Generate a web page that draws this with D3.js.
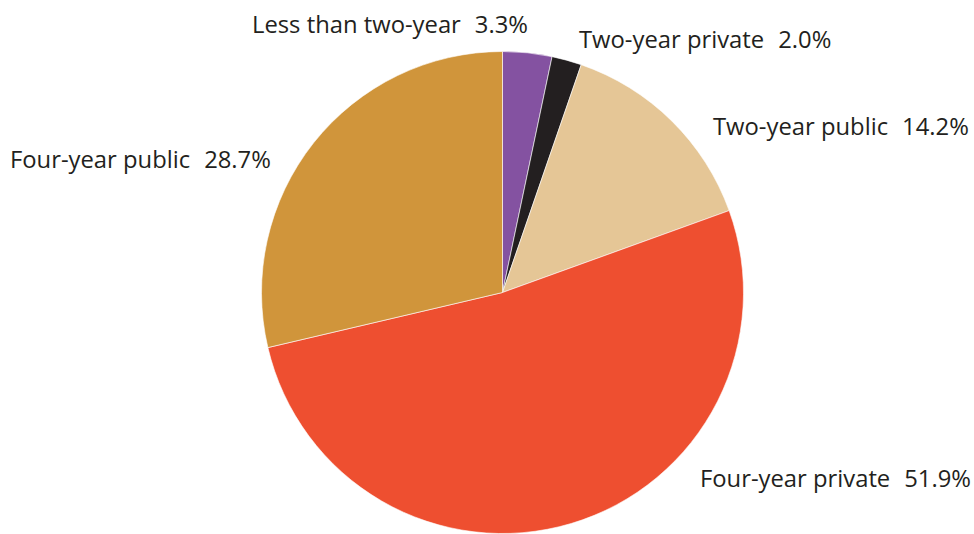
<!DOCTYPE html>
<html>
<head>
<meta charset="utf-8">
<script src="https://cdn.jsdelivr.net/npm/d3@7"></script>
<style>
  html, body { margin: 0; padding: 0; background: #ffffff; }
  svg { display: block; }
  text { font-family: "Open Sans", "Noto Sans", sans-serif; fill: #231f20; }
</style>
</head>
<body>
<svg id="chart" width="974" height="534"></svg>
<script>
// Share of enrollment by institution type, clockwise from 12 o'clock
const categories = [
  "Less than two-year",
  "Two-year private",
  "Two-year public",
  "Four-year private",
  "Four-year public"
];
const shares = [3.3, 2.0, 14.2, 51.9, 28.7];
const valueLabels = ["3.3%", "2.0%", "14.2%", "51.9%", "28.7%"];

const colors = ["#8452a1", "#231f20", "#e5c696", "#ee4f30", "#d0953b"];

// Label anchors (left edge of text, baseline)
const labelAnchors = [
  [252, 33],
  [579, 48],
  [713, 135],
  [700, 487],
  [10, 168]
];

const width = 974, height = 534;
const cx = 502.5, cy = 292.5, radius = 241;

const svg = d3.select("#chart");

const pie = d3.pie()
  .value(d => d.value)
  .sort(null)
  .startAngle(0)
  .endAngle(2 * Math.PI);

const arc = d3.arc().innerRadius(0).outerRadius(radius);

const data = categories.map((c, i) => ({ name: c, value: shares[i], label: valueLabels[i], color: colors[i], anchor: labelAnchors[i] }));

const g = svg.append("g").attr("transform", `translate(${cx},${cy})`);

g.selectAll("path")
  .data(pie(data))
  .join("path")
  .attr("d", arc)
  .attr("fill", d => d.data.color)
  .attr("stroke", "#ffffff")
  .attr("stroke-width", 0.6)
  .attr("stroke-linejoin", "round");

const labels = svg.selectAll("text.slice-label")
  .data(data)
  .join("text")
  .attr("class", "slice-label")
  .attr("x", d => d.anchor[0])
  .attr("y", d => d.anchor[1])
  .style("font-size", "23.8px");

labels.append("tspan").text(d => d.name);
labels.append("tspan").attr("dx", 14).text(d => d.label);
</script>
</body>
</html>
